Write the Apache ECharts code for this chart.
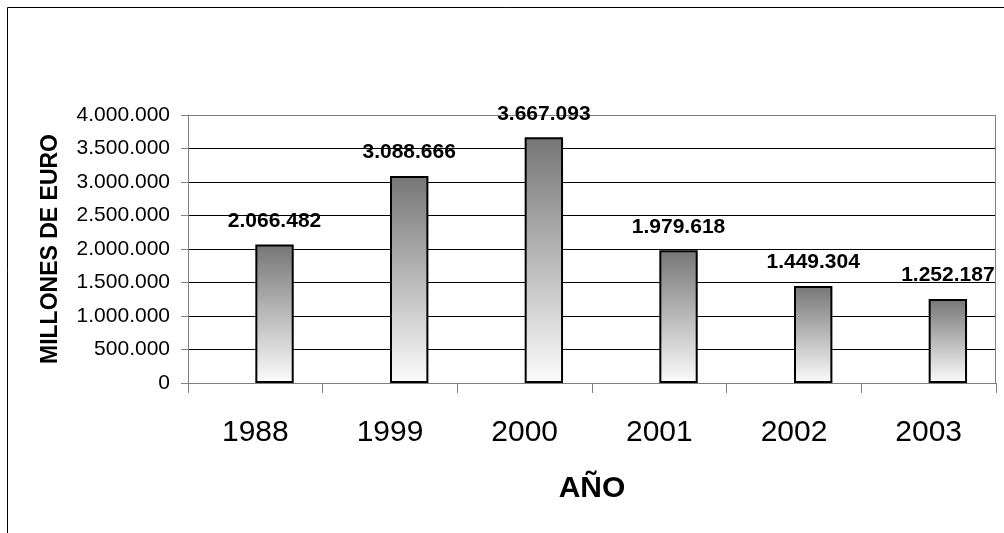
<!DOCTYPE html>
<html>
<head>
<meta charset="utf-8">
<script src="https://cdn.jsdelivr.net/npm/echarts@6/dist/echarts.min.js"></script>
<style>
  html, body { margin: 0; padding: 0; background: #fff; }
  #chart { width: 1004px; height: 533px; }
</style>
</head>
<body>
<div id="chart"></div>
<script>
// Years on the category axis
const years = ['1988', '1999', '2000', '2001', '2002', '2003'];
// Amounts per year (millones de euros)
const amounts = [2066482, 3088666, 3667093, 1979618, 1449304, 1252187];
// Empty companion series that keeps its slot in each cluster
const placeholder = [null, null, null, null, null, null];

const FONT = '"Liberation Sans", Arial, sans-serif';

// Thousands separated by dots, e.g. 2066482 -> "2.066.482"
function dotted(v) {
  return String(Math.round(v)).replace(/\B(?=(\d{3})+(?!\d))/g, '.');
}

const chart = echarts.init(document.getElementById('chart'), null, { renderer: 'canvas' });

// Gridline colours: all black, except the top one which is the grey plot frame
const splitColors = ['#000', '#000', '#000', '#000', '#000', '#000', '#000', '#000', '#808080'];

chart.setOption({
  animation: false,
  backgroundColor: '#fff',
  textStyle: { fontFamily: FONT },
  graphic: [
    {
      type: 'rect',
      shape: { x: 7.5, y: 7.5, width: 1100, height: 600 },
      style: { fill: null, stroke: '#000', lineWidth: 1 },
      silent: true,
      z: -10
    },
    {
      type: 'line',
      shape: { x1: 995.5, y1: 115, x2: 995.5, y2: 383 },
      style: { stroke: '#808080', lineWidth: 1 },
      silent: true,
      z: 1
    }
  ],
  grid: {
    left: 188,
    top: 115,
    right: 8,
    bottom: 150,
    containLabel: false
  },
  xAxis: {
    type: 'category',
    data: years,
    name: 'AÑO',
    nameLocation: 'middle',
    nameGap: 91,
    nameTextStyle: { fontFamily: FONT, fontSize: 30, fontWeight: 'bold', color: '#000' },
    axisLine: { show: true, lineStyle: { color: '#808080', width: 1 } },
    axisTick: { show: true, length: 10, lineStyle: { color: '#808080' } },
    axisLabel: { fontFamily: FONT, fontSize: 30, color: '#000', margin: 35 },
    splitLine: { show: false }
  },
  yAxis: {
    type: 'value',
    min: 0,
    max: 4000000,
    interval: 500000,
    name: 'MILLONES DE EURO',
    nameLocation: 'middle',
    nameGap: 126,
    nameTextStyle: { fontFamily: FONT, fontSize: 23, fontWeight: 'bold', color: '#000' },
    axisLine: { show: true, lineStyle: { color: '#808080', width: 1 } },
    axisTick: { show: true, length: 7, lineStyle: { color: '#808080' } },
    axisLabel: {
      fontFamily: FONT,
      fontSize: 21,
      color: '#000',
      margin: 18,
      formatter: function (v) { return dotted(v); }
    },
    splitLine: { show: true, lineStyle: { color: splitColors, width: 1 } }
  },
  series: [
    {
      name: 'vacía',
      type: 'bar',
      data: placeholder,
      barGap: '0%',
      barCategoryGap: '43%',
      itemStyle: { color: 'transparent' },
      silent: true
    },
    {
      name: 'importe',
      type: 'bar',
      data: amounts,
      barGap: '0%',
      barCategoryGap: '43%',
      z: 3,
      itemStyle: {
        color: new echarts.graphic.LinearGradient(0, 0, 0, 1, [
          { offset: 0, color: '#767676' },
          { offset: 0.5, color: '#b9b9b9' },
          { offset: 1, color: '#fcfcfc' }
        ]),
        borderColor: '#000',
        borderWidth: 2
      },
      label: {
        show: true,
        position: 'top',
        distance: 13,
        fontFamily: FONT,
        fontSize: 21,
        fontWeight: 'bold',
        color: '#000',
        formatter: function (p) { return dotted(p.value); }
      }
    }
  ]
});
</script>
</body>
</html>
